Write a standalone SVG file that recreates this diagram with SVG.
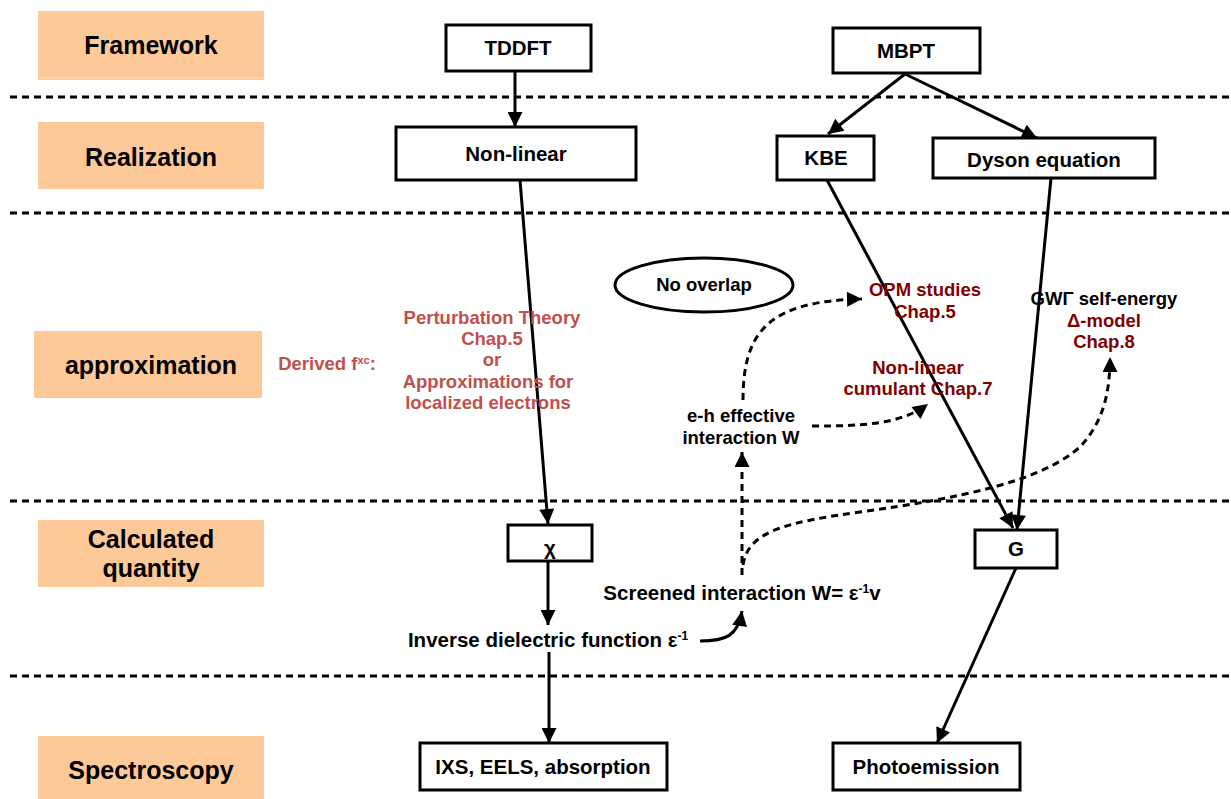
<svg xmlns="http://www.w3.org/2000/svg" width="1231" height="799" viewBox="0 0 1231 799">
<style>
  .band { fill: #FDC998; }
  .title { font-family: "Liberation Sans", Arial, sans-serif; font-weight: bold; font-size: 25px; fill: #000; text-anchor: middle; }
  .box { fill: #fff; stroke: #000; stroke-width: 3; }
  .nt { font-family: "Liberation Sans", Arial, sans-serif; font-weight: bold; font-size: 20.5px; fill: #000; text-anchor: middle; }
  .t { font-family: "Liberation Sans", Arial, sans-serif; font-weight: bold; font-size: 18.5px; fill: #000; text-anchor: middle; }
  .big { font-size: 20.5px; }
  .red { fill: #C0504D; }
  .dred { fill: #7F0000; }
  .sep { stroke: #000; stroke-width: 3; stroke-dasharray: 7 5; fill: none; }
  .arr { stroke: #000; stroke-width: 3; fill: none; marker-end: url(#ah); }
  .darr { stroke: #000; stroke-width: 3; stroke-dasharray: 7 5; fill: none; marker-end: url(#ah); }
</style>
<defs>
  <marker id="ah" viewBox="0 0 10 10" refX="10" refY="5" markerWidth="18" markerHeight="15" markerUnits="userSpaceOnUse" orient="auto">
    <path d="M0,0 L10,5 L0,10 z" fill="#000" stroke="none"/>
  </marker>
</defs>
<rect width="1231" height="799" fill="#fff"/>

<g id="bands">
  <g id="band-framework"><rect class="band" x="38" y="11" width="226" height="69"/><line x1="38" y1="78" x2="264" y2="78" stroke="#FFE0C0" stroke-width="1"/><text class="title" x="151" y="54">Framework</text></g>
  <g id="band-realization"><rect class="band" x="38" y="122" width="226" height="67"/><text class="title" x="151" y="166">Realization</text></g>
  <g id="band-approximation"><rect class="band" x="34" y="331" width="228" height="67"/><text class="title" x="151" y="374">approximation</text></g>
  <g id="band-calculated"><rect class="band" x="38" y="520" width="226" height="67"/><text class="title" x="151" y="548">Calculated</text><text class="title" x="151" y="577">quantity</text></g>
  <g id="band-spectroscopy"><rect class="band" x="38" y="736" width="226" height="64"/><text class="title" x="151" y="779">Spectroscopy</text></g>
</g>

<g id="separators">
  <line class="sep" x1="10" y1="97" x2="1231" y2="97"/>
  <line class="sep" x1="10" y1="213" x2="1231" y2="213"/>
  <line class="sep" x1="10" y1="501" x2="1231" y2="501"/>
  <line class="sep" x1="10" y1="676" x2="1231" y2="676"/>
</g>

<g id="connectors">
  <line class="arr" x1="515" y1="71" x2="515" y2="127"/>
  <line class="arr" x1="520" y1="180" x2="548" y2="524"/>
  <line class="arr" x1="548" y1="561" x2="548" y2="625"/>
  <line class="arr" x1="549" y1="652" x2="549" y2="743"/>
  <line class="arr" x1="905" y1="74" x2="828" y2="134"/>
  <line class="arr" x1="905" y1="74" x2="1037" y2="138"/>
  <line class="arr" x1="827" y1="180" x2="1013" y2="528"/>
  <line class="arr" x1="1051" y1="178" x2="1017" y2="530"/>
  <line class="arr" x1="1016" y1="568" x2="937" y2="743"/>
  <path class="arr" d="M700,641 C726,641 738,636 742,611"/>
  <line class="darr" x1="742" y1="575" x2="742" y2="452"/>
  <path class="darr" d="M743,400 C743,330 770,301 862,299"/>
  <path class="darr" d="M812,426 C860,426 900,425 928,404"/>
  <path class="darr" d="M743,565 C748,530 790,522 860,512 C960,498 1040,482 1080,447 C1100,425 1110,400 1110,357"/>
</g>

<g id="node-tddft"><rect class="box" x="446" y="25" width="145" height="46"/><text class="nt" x="518" y="55">TDDFT</text></g>
<g id="node-nonlinear"><rect class="box" x="396" y="127" width="240" height="53"/><text class="nt" x="516" y="161">Non-linear</text></g>
<g id="node-mbpt"><rect class="box" x="833" y="28" width="147" height="45"/><text class="nt" x="906" y="58">MBPT</text></g>
<g id="node-kbe"><rect class="box" x="777" y="136" width="97" height="44"/><text class="nt" x="826" y="165">KBE</text></g>
<g id="node-dyson"><rect class="box" x="933" y="138" width="222" height="40"/><text class="nt" x="1044" y="167">Dyson equation</text></g>
<g id="node-chi"><rect class="box" x="508" y="525" width="84" height="36"/><text class="nt" x="550" y="555">χ</text></g>
<g id="node-g"><rect class="box" x="975" y="530" width="82" height="38"/><text class="nt" x="1016" y="556">G</text></g>
<g id="node-ixs"><rect class="box" x="420" y="743" width="247" height="47"/><text class="nt" x="543" y="774">IXS, EELS, absorption</text></g>
<g id="node-photo"><rect class="box" x="833" y="743" width="187" height="47"/><text class="nt" x="926" y="774">Photoemission</text></g>
<g id="node-nooverlap"><ellipse cx="704" cy="285" rx="89" ry="27" fill="#fff" stroke="#000" stroke-width="3"/><text class="t" x="704" y="291">No overlap</text></g>

<g id="node-derived"><text class="t red" x="327" y="370">Derived f<tspan font-size="11" dy="-6">xc</tspan><tspan dy="6">:</tspan></text></g>
<g id="node-pert">
  <text class="t red" x="492" y="324">Perturbation Theory</text>
  <text class="t red" x="492" y="345">Chap.5</text>
  <text class="t red" x="492" y="366">or</text>
  <text class="t red" x="488" y="388">Approximations for</text>
  <text class="t red" x="488" y="409">localized electrons</text>
</g>
<g id="node-opm">
  <text class="t dred" x="925" y="296">OPM studies</text>
  <text class="t dred" x="925" y="318">Chap.5</text>
</g>
<g id="node-cumulant">
  <text class="t dred" x="918" y="374">Non-linear</text>
  <text class="t dred" x="918" y="395">cumulant Chap.7</text>
</g>
<g id="node-gwg">
  <text class="t" x="1104" y="305">GWΓ self-energy</text>
  <text class="t dred" x="1104" y="327">Δ-model</text>
  <text class="t dred" x="1104" y="348">Chap.8</text>
</g>
<g id="node-eh">
  <text class="t" x="741" y="422">e-h effective</text>
  <text class="t" x="741" y="444">interaction W</text>
</g>
<g id="node-screened"><text class="t big" x="742" y="600">Screened interaction W= ε<tspan font-size="12" dy="-7">-1</tspan><tspan dy="7">v</tspan></text></g>
<g id="node-inverse"><text class="t big" x="548" y="647">Inverse dielectric function ε<tspan font-size="12" dy="-7">-1</tspan></text></g>
</svg>
